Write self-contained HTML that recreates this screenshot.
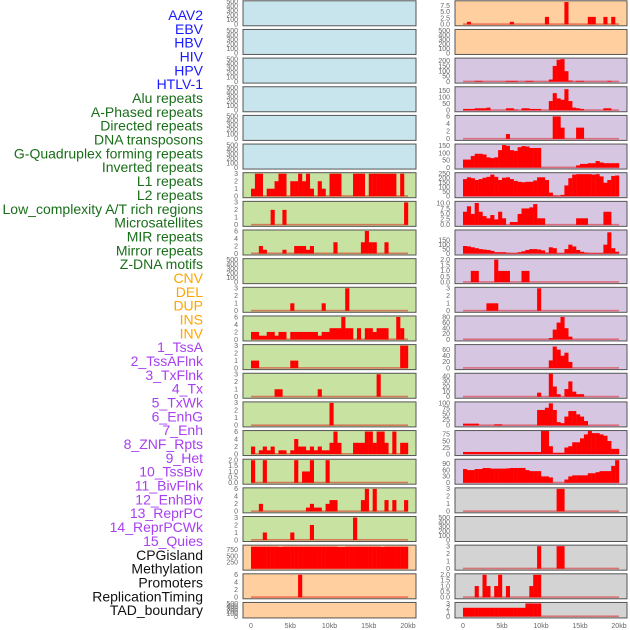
<!DOCTYPE html>
<html><head><meta charset="utf-8">
<style>
html,body{margin:0;padding:0;background:#fff;}
svg{display:block;font-family:"Liberation Sans",sans-serif;}
</style></head>
<body>
<svg id="chart" width="630" height="630" viewBox="0 0 630 630" xmlns="http://www.w3.org/2000/svg"></svg>
<script>
const rowLabels = ["AAV2","EBV","HBV","HIV","HPV","HTLV-1","Alu repeats","A-Phased repeats","Directed repeats","DNA transposons","G-Quadruplex forming repeats","Inverted repeats","L1 repeats","L2 repeats","Low_complexity A/T rich regions","Microsatellites","MIR repeats","Mirror repeats","Z-DNA motifs","CNV","DEL","DUP","INS","INV","1_TssA","2_TssAFlnk","3_TxFlnk","4_Tx","5_TxWk","6_EnhG","7_Enh","8_ZNF_Rpts","9_Het","10_TssBiv","11_BivFlnk","12_EnhBiv","13_ReprPC","14_ReprPCWk","15_Quies","CPGisland","Methylation","Promoters","ReplicationTiming","TAD_boundary"];
const labelColors = ["#1a1aff","#1a1aff","#1a1aff","#1a1aff","#1a1aff","#1a1aff","#1a6e1a","#1a6e1a","#1a6e1a","#1a6e1a","#1a6e1a","#1a6e1a","#1a6e1a","#1a6e1a","#1a6e1a","#1a6e1a","#1a6e1a","#1a6e1a","#1a6e1a","#ffa500","#ffa500","#ffa500","#ffa500","#ffa500","#a83ff0","#a83ff0","#a83ff0","#a83ff0","#a83ff0","#a83ff0","#a83ff0","#a83ff0","#a83ff0","#a83ff0","#a83ff0","#a83ff0","#a83ff0","#a83ff0","#a83ff0","#111","#111","#111","#111","#111"];
const xTickLabels = ["0","5kb","10kb","15kb","20kb"];
const xTickValues = [0,5000,10000,15000,20000];
const binSize = 500;

const Z = "empty";
const leftBg = ["#c8e4ec","#c8e4ec","#c8e4ec","#c8e4ec","#c8e4ec","#c8e4ec","#c8e2a2","#c8e2a2","#c8e2a2","#c8e2a2","#c8e2a2","#c8e2a2","#c8e2a2","#c8e2a2","#c8e2a2","#c8e2a2","#c8e2a2","#c8e2a2","#c8e2a2","#ffcf9f","#ffcf9f","#ffcf9f"];
const rightBg = ["#ffcf9f","#ffcf9f","#d7c6e2","#d7c6e2","#d7c6e2","#d7c6e2","#d7c6e2","#d7c6e2","#d7c6e2","#d7c6e2","#d7c6e2","#d7c6e2","#d7c6e2","#d7c6e2","#d7c6e2","#d7c6e2","#d7c6e2","#d3d3d3","#d3d3d3","#d3d3d3","#d3d3d3","#d3d3d3"];

const emptyTicks = ["0","100","200","300","400","500"];
const t3 = ["0","1","2","3"], t6 = ["0","2","4","6"], t2 = ["0.0","0.5","1.0","1.5","2.0"];

const leftYMax = [500,500,500,500,500,500,3,3,6,500,3,6,3,3,3,6,2,6,3,900,6,500];
const leftTicks = [emptyTicks,emptyTicks,emptyTicks,emptyTicks,emptyTicks,emptyTicks,t3,t3,t6,emptyTicks,t3,t6,t3,t3,t3,t6,t2,t6,t3,["250","500","750"],t6,emptyTicks];
const leftValues = [Z,Z,Z,Z,Z,Z,
[1,3,3,0,1,1,2,3,3,0,2,2,3,2,3,1,0,2,1,0,3,3,3,0,0,0,3,3,3,0,3,3,3,3,3,3,3,0,3,0],
[0,0,0,0,0,2,0,0,2,0,0,0,0,0,0,0,0,0,0,0,0,0,0,0,0,0,0,0,0,0,0,0,0,0,0,0,0,0,0,3],
[0,0,2,1,0,0,0,0,1,0,0,2,2,2,1,2,0,0,0,0,0,3,0,0,0,0,0,0,3,6,3,3,0,0,3,0,0,0,0,0],
Z,
[0,0,0,0,0,0,0,0,0,0,1,0,0,0,0,0,0,0,1,0,0,0,0,0,3,0,0,0,0,0,0,0,0,0,0,0,0,0,0,0],
[2,2,1,1,2,2,1,2,2,0,2,2,2,2,2,2,2,1,2,2,3,3,3,6,3,3,0,3,0,3,3,2,3,3,3,0,0,6,3,0],
[1,1,0,0,0,0,0,0,0,0,1,1,0,0,0,0,0,0,0,0,0,0,0,0,0,0,0,0,0,0,0,0,0,0,0,0,0,0,3,3],
[0,0,0,0,0,0,1,1,0,0,0,0,0,0,0,0,0,1,0,0,0,0,0,0,0,0,0,0,0,0,0,0,3,0,0,0,0,0,0,0],
[0,0,0,0,0,0,0,0,0,0,0,0,0,0,0,0,0,0,0,0,3,0,0,0,0,0,0,0,0,0,0,0,0,0,0,0,0,0,0,0],
[2,0,1,2,1,2,0,1,1,0,1,4,2,2,1,2,1,2,1,1,3,6,3,0,0,0,3,3,3,6,6,3,6,6,3,0,6,0,3,3],
[2,0,0,2,0,0,0,0,0,0,0,2,0,1,1,2,0,0,0,2,0,0,0,0,0,0,0,0,0,0,0,0,0,0,0,0,0,0,0,0],
[0,0,2,0,0,0,0,0,0,0,0,0,0,0,1,2,1,1,0,2,3,3,0,0,0,0,0,0,3,6,0,6,0,0,3,0,3,0,0,3],
[0,0,0,1,0,0,0,0,0,0,1,0,0,0,0,2,0,0,0,0,0,0,0,0,0,0,3,0,0,0,0,0,0,0,0,0,0,0,0,0],
[880,880,880,880,880,880,880,870,880,880,880,880,880,880,880,880,880,880,880,880,880,880,870,870,880,880,880,880,880,880,880,880,880,870,880,880,880,880,880,880],
[0,0,0,0,0,0,0,0,0,0,0,0,6,0,0,0,0,0,0,0,0,0,0,0,0,0,0,0,0,0,0,0,0,0,0,0,0,0,0,0],
Z];

const rightYMax = [9.1,500,216,171,6,155,250,10.3,255,2,3,80,73,44,102,86,107,3,500,3,2,3];
const rightTicks = [["0.0","2.5","5.0","7.5"],emptyTicks,["0","50","100","150","200"],["0","50","100","150"],t6,["0","50","100","150"],["0","50","100","150","200","250"],["0.0","2.5","5.0","7.5","10.0"],["0","50","100","150"],t2,t3,["0","20","40","60","80"],["0","20","40","60"],["0","10","20","30","40"],["0","25","50","75","100"],["0","25","50","75"],["0","30","60","90"],t3,emptyTicks,t3,t2,t3];
const rightValues = [
[0,1,0,0,0,0,0,0,0,0,0,0,1,0,0,0,0,0,0,0,0,3,0,0,0,0,9,0,0,0,0,0,3,3,0,0,3,0,3,0],
Z,
[0,0,0,7,7,0,0,0,0,0,0,7,7,7,0,0,7,7,0,0,0,0,20,150,210,216,100,10,0,7,7,0,0,0,0,0,0,7,0,0],
[10,10,10,15,15,15,20,0,0,0,0,15,15,5,0,15,15,10,10,10,0,0,70,130,90,80,160,70,20,15,10,0,0,0,0,0,15,15,0,0],
[0,0,0,0,0,0,0,0,0,0,0,1.3,0,0,0,0,0,0,0,0,0,0,0,6,6,3,0,0,0,3,3,0,0,0,0,0,0,0,0,0],
[55,55,80,95,95,90,70,65,70,120,155,150,120,115,140,148,145,135,135,135,0,0,0,0,0,0,0,0,0,15,25,25,30,30,45,35,30,30,30,30],
[190,210,200,180,190,205,215,240,215,180,205,210,190,170,160,155,160,160,175,210,210,180,40,8,5,15,120,200,240,245,245,245,245,240,245,220,150,180,225,230],
[6,8.5,5,10,6,4,3,4.5,2.5,6,3,0,1.3,1.3,5,7.5,7.5,8,9.5,3,3,0,0,0,0,0,0,0,0,3,3,3,0,0,0,0,6,6,0,0],
[85,80,70,60,50,45,40,30,15,15,15,8,5,5,15,25,40,50,50,45,35,10,70,60,5,5,50,100,80,40,20,10,5,5,5,5,100,240,60,20],
[0,0,1,1,0,0,0,0,2,1,1,1,0,0,0,1,1,0,0,0,0,0,0,0,0,0,0,0,0,0,0,0,0,0,0,0,0,0,0,0],
[0,0,0,0,0,0,1,1,1,0,0,0,0,0,0,0,0,0,0,3,0,0,0,0,0,0,0,0,0,0,0,0,0,0,0,0,0,0,0,0],
[0,0,0,0,0,0,0,0,0,0,0,0,0,0,0,0,0,0,0,0,0,0,5,35,60,80,40,10,0,0,0,0,0,0,0,0,0,0,0,0],
[0,0,0,0,0,0,0,0,0,0,0,0,0,0,0,0,0,0,0,0,0,0,25,70,60,40,50,20,0,0,0,0,0,0,0,0,0,0,0,0],
[0,0,0,0,0,0,0,0,0,0,0,0,0,0,0,0,0,0,0,8,0,0,45,20,5,0,15,30,10,5,5,0,0,0,0,0,0,0,0,0],
[8,8,8,8,0,0,0,0,5,5,0,0,0,0,0,0,0,0,0,70,70,80,100,70,15,10,40,65,65,50,40,20,0,0,0,0,0,0,0,0],
[8,8,8,8,8,8,8,8,8,8,8,8,8,8,8,8,8,8,8,8,88,88,30,5,5,5,25,30,45,45,60,75,88,80,80,75,70,50,20,20],
[65,60,60,65,65,70,70,67,67,67,67,68,70,70,70,70,60,55,55,55,30,30,25,0,0,0,15,30,35,35,35,35,45,45,50,55,55,55,80,107],
[0,0,0,0,0,0,0,0,0,0,0,0,0,0,0,0,0,0,0,0,0,0,0,0,3,3,0,0,0,0,0,0,0,0,0,0,0,0,0,0],
Z,
[0,0,0,0,0,0,0,0,0,0,0,0,0,0,0,0,0,0,0,3,0,0,0,0,3,3,0,0,0,0,0,0,0,0,0,0,0,0,0,0],
[0,0,0,1,0,2,1,0,1,2,0,1,0,0,0,0,0,1,2,2,0,0,0,0,0,0,0,0,0,0,0,0,0,0,0,0,0,0,0,0],
[2,2,2,2,2,2,2,2,2,2,2,2,2,2,2,2,3,3,3,3,0,0,0,0,0,0,0,0,0,0,0,0,0,0,0,0,0,0,0,0]];

const NS = "http://www.w3.org/2000/svg";
const svg = document.getElementById("chart");
function mk(tag, attrs, parent){
  const e = document.createElementNS(NS, tag);
  for (const k in attrs) e.setAttribute(k, attrs[k]);
  (parent||svg).appendChild(e);
  return e;
}

rowLabels.forEach((t,i)=>{
  const e = mk("text",{x:203,y:20+i*13.84,"text-anchor":"end","font-size":"14",fill:labelColors[i]});
  
  
  e.textContent = t;
});

function panelTop(i){ return 0.3 + i*28.65; }
function panelH(i){ return i===21 ? 15.5 : 25; }

function drawColumn(colName, px, pw, bgs, ymaxs, ticks, values){
  const x0 = px + 8, x1 = px + pw - 8;
  const xs = v => x0 + (v/20000)*(x1-x0);
  for (let i=0;i<bgs.length;i++){
    const T = panelTop(i), H = panelH(i);
    const g = mk("g",{});
    
    
    const r = mk("rect",{x:px,y:T+0.5,width:pw,height:H,fill:bgs[i],stroke:"#555","stroke-width":"1"},g);
    
    
    const ymax = ymaxs[i];
    const y0 = T + H - 1, yTop = T + 1.5;
    const ys = v => y0 - (v/ymax)*(y0-yTop);
    ticks[i].forEach(lbl=>{
      const v = parseFloat(lbl);
      const t = mk("text",{x:px-5,y:ys(v)+2.3,"text-anchor":"end","font-size":"7",fill:"#666"},g);
      
      
      t.textContent = lbl;
    });
    const vals = values[i];
    if (vals === Z) continue;
    const base = mk("rect",{x:xs(0),y:y0-1,width:xs(20000)-xs(0),height:1.6,fill:"rgba(220,0,0,0.45)"},g);
    
    
    vals.forEach((v,b)=>{
      if (!v) return;
      const bx = xs(b*binSize), bw = xs((b+1)*binSize) - bx;
      const bar = mk("rect",{x:bx,y:ys(v),width:bw+0.2,height:y0-ys(v),fill:"#ff0000"},g);
      
      
    });
  }
  xTickValues.forEach((v,k)=>{
    const t = mk("text",{x:xs(v),y:628,"text-anchor":"middle","font-size":"7",fill:"#666"});
    
    
    t.textContent = xTickLabels[k];
  });
}
drawColumn("left", 243, 173, leftBg, leftYMax, leftTicks, leftValues);
drawColumn("right", 455, 172, rightBg, rightYMax, rightTicks, rightValues);
</script>
</body></html>
